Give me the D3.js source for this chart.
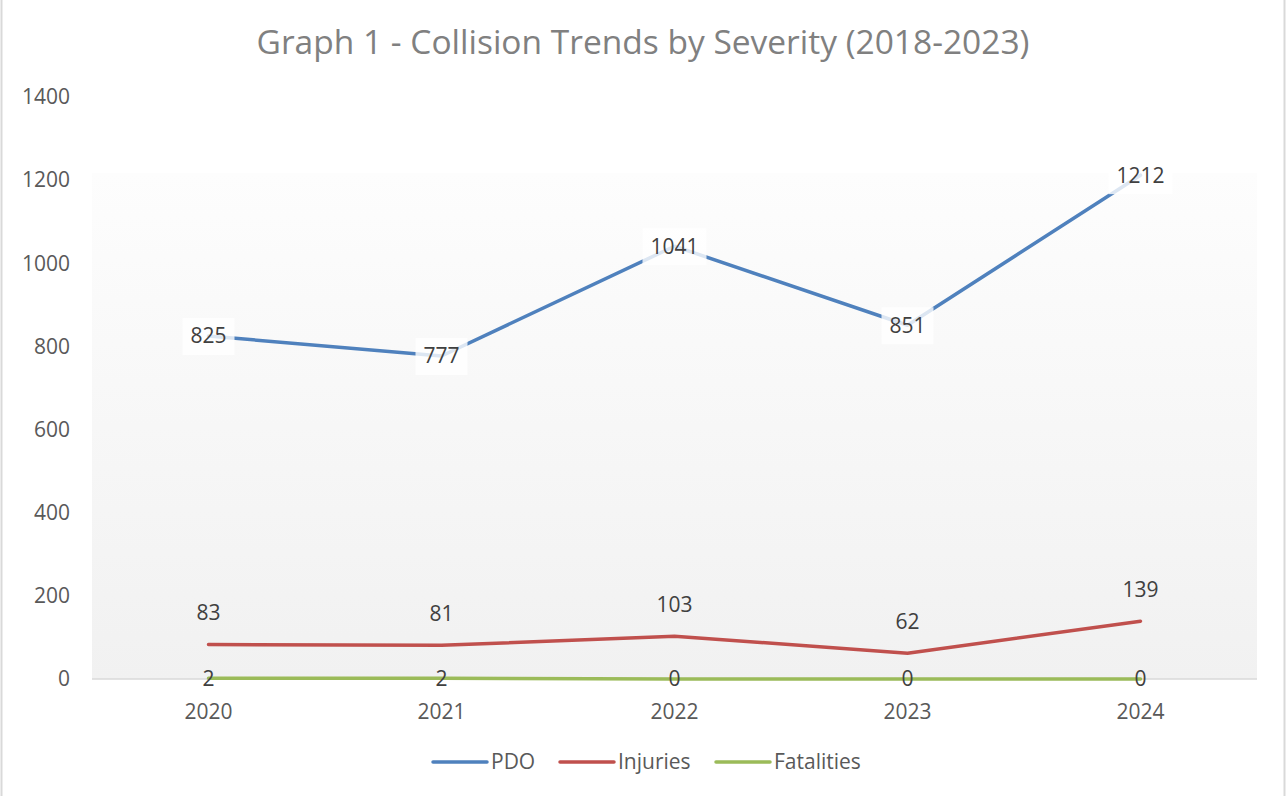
<!DOCTYPE html>
<html>
<head>
<meta charset="utf-8">
<script src="https://cdn.jsdelivr.net/npm/d3@7"></script>
<style>
  body { margin: 0; background: #fff; }
  text { font-family: "Open Sans", "Liberation Sans", sans-serif; }
</style>
</head>
<body>
<div id="content"></div>
<script>
// ******* DATA *******
const years = ["2020", "2021", "2022", "2023", "2024"];
const pdo = [825, 777, 1041, 851, 1212];
const injuries = [83, 81, 103, 62, 139];
const fatalities = [2, 2, 0, 0, 0];
const yTicks = [0, 200, 400, 600, 800, 1000, 1200, 1400];

const seriesList = [
    { name: "PDO", values: pdo, color: "#4f81bd", labelPos: "center", box: true },
    { name: "Injuries", values: injuries, color: "#c0504d", labelPos: "above", box: false },
    { name: "Fatalities", values: fatalities, color: "#9bbb59", labelPos: "center", box: false }
];

//******* LAYOUT *******
const width = 1286, height = 796;
const plot = { left: 92, right: 1257, top: 97, bottom: 679 };
const FONT = "21px";

const svg = d3.select("#content").append("svg")
    .attr("width", width)
    .attr("height", height);

// outer chart border (left / right edges)
svg.append("line").attr("x1", 1.5).attr("x2", 1.5).attr("y1", 0).attr("y2", height)
    .attr("stroke", "#d9d9d9").attr("stroke-width", 2);
svg.append("line").attr("x1", 1284.5).attr("x2", 1284.5).attr("y1", 0).attr("y2", height)
    .attr("stroke", "#d9d9d9").attr("stroke-width", 2);

const x = d3.scaleBand().domain(years).range([plot.left, plot.right]);
const y = d3.scaleLinear().domain([0, 1400]).range([plot.bottom, plot.top]);

// plot area gradient
const defs = svg.append("defs");
const grad = defs.append("linearGradient").attr("id", "bg").attr("x1", 0).attr("x2", 0).attr("y1", 0).attr("y2", 1);
grad.append("stop").attr("offset", "0%").attr("stop-color", "#fdfdfd");
grad.append("stop").attr("offset", "100%").attr("stop-color", "#f1f1f1");

svg.append("rect")
    .attr("x", plot.left)
    .attr("y", 173)
    .attr("width", plot.right - plot.left)
    .attr("height", plot.bottom - 173)
    .attr("fill", "url(#bg)");

// title
svg.append("text")
    .attr("x", 643)
    .attr("y", 54)
    .attr("text-anchor", "middle")
    .attr("fill", "#808080")
    .style("font-size", "33.5px")
    .text("Graph 1 - Collision Trends by Severity (2018-2023)");

// y axis labels
svg.append("g").selectAll("text")
    .data(yTicks)
    .join("text")
    .attr("x", 70)
    .attr("y", d => y(d))
    .attr("dy", "0.35em")
    .attr("text-anchor", "end")
    .attr("fill", "#595959")
    .style("font-size", FONT)
    .text(d => d);

// x axis line
svg.append("line")
    .attr("x1", plot.left).attr("x2", plot.right)
    .attr("y1", y(0)).attr("y2", y(0))
    .attr("stroke", "#d9d9d9").attr("stroke-width", 1.5);

// x axis labels
svg.append("g").selectAll("text")
    .data(years)
    .join("text")
    .attr("x", d => x(d) + x.bandwidth() / 2)
    .attr("y", 712)
    .attr("dy", "0.35em")
    .attr("text-anchor", "middle")
    .attr("fill", "#595959")
    .style("font-size", FONT)
    .text(d => d);

const line = d3.line()
    .x((d, i) => x(years[i]) + x.bandwidth() / 2)
    .y(d => y(d));

// lines
seriesList.forEach(s => {
    svg.append("path")
        .datum(s.values)
        .attr("d", line)
        .attr("fill", "none")
        .attr("stroke", s.color)
        .attr("stroke-width", 3.5)
        .attr("stroke-linecap", "round")
        .attr("stroke-linejoin", "round");
});

// data labels
seriesList.forEach(s => {
    const g = svg.append("g");
    s.values.forEach((v, i) => {
        const cx = x(years[i]) + x.bandwidth() / 2;
        const cy = s.labelPos === "above" ? y(v) - 32 : y(v);
        if (s.box) {
            const w = String(v).length * 12 + 16;
            g.append("rect")
                .attr("x", cx - w / 2)
                .attr("y", cy - 18)
                .attr("width", w)
                .attr("height", 37)
                .attr("fill", "#ffffff")
                .attr("fill-opacity", 0.8);
        }
        g.append("text")
            .attr("x", cx)
            .attr("y", cy)
            .attr("dy", "0.35em")
            .attr("text-anchor", "middle")
            .attr("fill", "#404040")
            .style("font-size", FONT)
            .text(v);
    });
});

// legend
const legendX = [433, 560, 716];
const legend = svg.append("g");
seriesList.forEach((s, i) => {
    legend.append("line")
        .attr("x1", legendX[i]).attr("x2", legendX[i] + 54)
        .attr("y1", 762).attr("y2", 762)
        .attr("stroke", s.color)
        .attr("stroke-width", 3.5)
        .attr("stroke-linecap", "round");
    legend.append("text")
        .attr("x", legendX[i] + 58)
        .attr("y", 762)
        .attr("dy", "0.35em")
        .attr("fill", "#595959")
        .style("font-size", FONT)
        .text(s.name);
});
</script>
</body>
</html>
